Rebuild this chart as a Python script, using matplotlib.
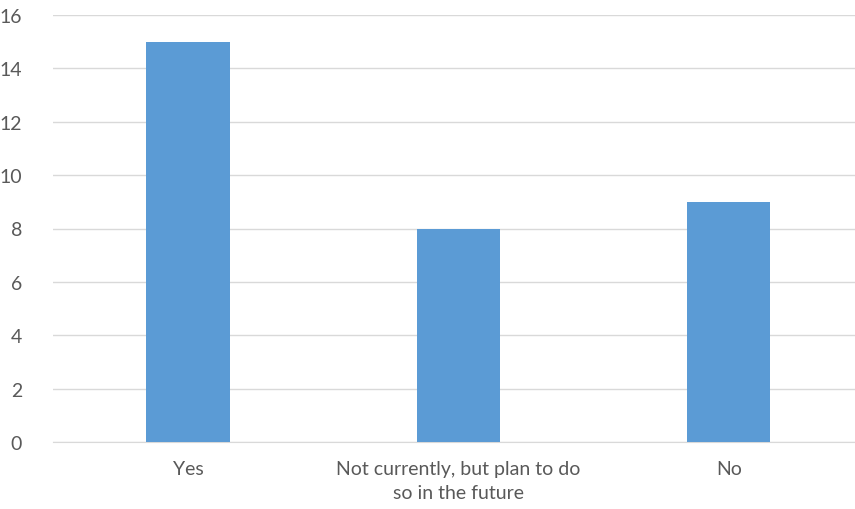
import matplotlib
matplotlib.use('Agg')
import matplotlib.pyplot as plt

categories = ["Yes", "Not currently, but plan to do\nso in the future", "No"]
values = [15, 8, 9]
yticks = [0, 2, 4, 6, 8, 10, 12, 14, 16]

plt.rcParams['font.family'] = ['Lato', 'DejaVu Sans']

fig = plt.figure(figsize=(8.55, 5.10), dpi=100)
ax = fig.add_axes([0.0617, 0.131, 0.949, 0.838])

x = range(len(categories))
ax.bar(x, values, width=0.307, color="#5B9BD5", zorder=3)

ax.set_xlim(-0.5, len(categories) - 0.5)
ax.set_ylim(0, 16)
ax.set_yticks(yticks)
ax.set_xticks(list(x))
ax.set_xticklabels(categories, linespacing=1.5)

ax.grid(axis='y', color="#D9D9D9", linewidth=1, zorder=0)
for s in ['top', 'right', 'left']:
    ax.spines[s].set_visible(False)
ax.spines['bottom'].set_color("#D9D9D9")
ax.tick_params(length=0, colors="#595959", labelsize=14)
ax.tick_params(axis='x', pad=13)
ax.tick_params(axis='y', pad=22)
for lbl in ax.get_yticklabels():
    lbl.set_horizontalalignment('right')

fig.savefig("out.png", dpi=100)
